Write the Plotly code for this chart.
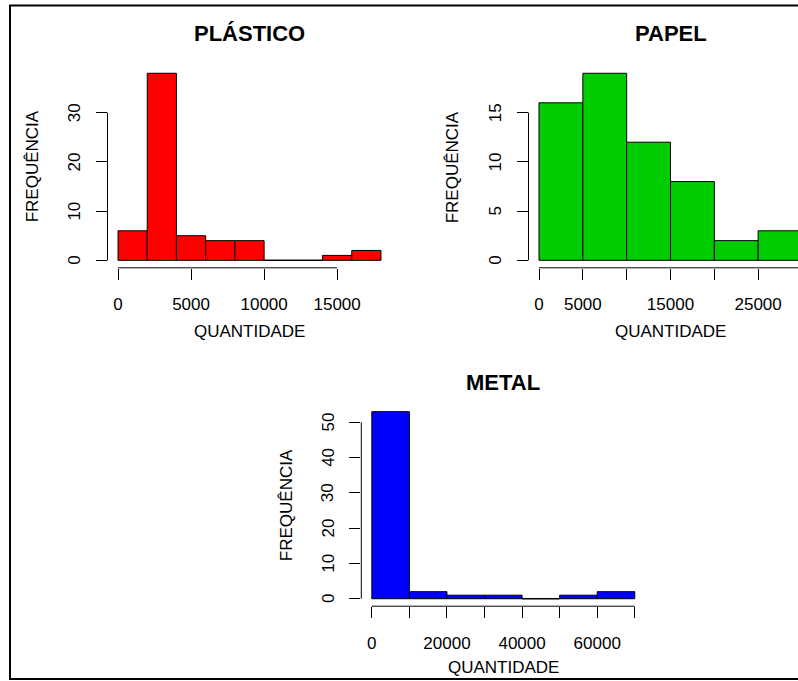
import plotly.graph_objects as go

# ---------------- data ----------------
plastico_edges = [0, 2000, 4000, 6000, 8000, 10000, 12000, 14000, 16000, 18000]
plastico_counts = [6, 38, 5, 4, 4, 0, 0, 1, 2]
plastico_xticks = [0, 5000, 10000, 15000]
plastico_xlabels = ["0", "5000", "10000", "15000"]
plastico_yticks = [0, 10, 20, 30]

papel_edges = [0, 5000, 10000, 15000, 20000, 25000, 30000]
papel_counts = [16, 19, 12, 8, 2, 3]
papel_xticks = [0, 5000, 10000, 15000, 20000, 25000, 30000]
papel_xlabels = ["0", "5000", "", "15000", "", "25000", ""]
papel_yticks = [0, 5, 10, 15]

metal_edges = [0, 10000, 20000, 30000, 40000, 50000, 60000, 70000]
metal_counts = [53, 2, 1, 1, 0, 1, 2]
metal_xticks = [0, 10000, 20000, 30000, 40000, 50000, 60000, 70000]
metal_xlabels = ["0", "", "20000", "", "40000", "", "60000", ""]
metal_yticks = [0, 10, 20, 30, 40, 50]

titles = ["PLÁSTICO", "PAPEL", "METAL"]
xlabel = "QUANTIDADE"
ylabel = "FREQUÊNCIA"
colors = ["#FF0000", "#00CD00", "#0000FF"]

# ---------------- layout helpers ----------------
FW, FH = 798, 681
FONT = "Liberation Sans, Arial, sans-serif"
PW, PH = 284, 202  # plot region size in px


def px(x):
    return x / FW


def py(y):
    return 1 - y / FH


panels = [
    dict(edges=plastico_edges, counts=plastico_counts, xt=plastico_xticks, xl=plastico_xlabels,
         yt=plastico_yticks, left=107.5, top=65.8, title_y=33, xlab_y=331, ylab_x=32.5),
    dict(edges=papel_edges, counts=papel_counts, xt=papel_xticks, xl=papel_xlabels,
         yt=papel_yticks, left=528.5, top=65.8, title_y=33, xlab_y=331, ylab_x=452.5),
    dict(edges=metal_edges, counts=metal_counts, xt=metal_xticks, xl=metal_xlabels,
         yt=metal_yticks, left=361.3, top=404.2, title_y=382, xlab_y=667.5, ylab_x=286),
]

fig = go.Figure()
shapes = []
annotations = []

for i, p in enumerate(panels):
    n = i + 1
    xa = "x" if n == 1 else f"x{n}"
    ya = "y" if n == 1 else f"y{n}"
    edges, counts = p["edges"], p["counts"]
    mids = [(a + b) / 2 for a, b in zip(edges[:-1], edges[1:])]
    widths = [b - a for a, b in zip(edges[:-1], edges[1:])]
    fig.add_trace(go.Bar(
        x=mids, y=counts, width=widths, xaxis=xa, yaxis=ya,
        marker=dict(color=colors[i], line=dict(color="black", width=1)),
        showlegend=False, hoverinfo="x+y",
    ))
    # zero-height bins drawn as baseline segments (like R's hist)
    for a, b, c in zip(edges[:-1], edges[1:], counts):
        if c == 0:
            shapes.append(dict(type="line", xref=xa, yref=ya, x0=a, x1=b, y0=0, y1=0,
                               line=dict(color="black", width=1)))

    xlo, xhi = edges[0], edges[-1]
    xpad = 0.04 * (xhi - xlo)
    xr = [xlo - xpad, xhi + xpad]
    left = p["left"]
    right = left + PW
    if right > FW:
        frac = (FW - left) / PW
        xr = [xr[0], xr[0] + frac * (xr[1] - xr[0])]
        right = FW
    ymax = max(counts)
    yr = [-0.04 * ymax, ymax * 1.04]
    top = p["top"]
    bottom = top + PH

    axis_common = dict(showgrid=False, zeroline=False, showline=False, ticks="outside",
                       ticklen=11, tickwidth=1, tickcolor="black",
                       tickfont=dict(family=FONT, size=17, color="black"))
    fig.layout[("xaxis" if n == 1 else f"xaxis{n}")] = dict(
        domain=[px(left), px(right)], anchor=ya, range=xr, ticklabelstandoff=10,
        tickmode="array", tickvals=p["xt"], ticktext=p["xl"], **axis_common)
    fig.layout[("yaxis" if n == 1 else f"yaxis{n}")] = dict(
        domain=[py(bottom), py(top)], anchor=xa, range=yr, showticklabels=False,
        tickmode="array", tickvals=p["yt"], **axis_common)

    # rotated y tick labels (R style, parallel to the axis)
    for v in p["yt"]:
        annotations.append(dict(text=str(v), xref="paper", yref=ya, x=px(left), y=v,
                                xanchor="center", yanchor="middle", xshift=-33,
                                textangle=-90, showarrow=False,
                                font=dict(family=FONT, size=17, color="black")))

    # R-style axis lines spanning first..last tick
    shapes.append(dict(type="line", xref=xa, yref="paper", x0=p["xt"][0], x1=p["xt"][-1],
                       y0=py(bottom), y1=py(bottom), line=dict(color="black", width=1)))
    shapes.append(dict(type="line", xref="paper", yref=ya, x0=px(left), x1=px(left),
                       y0=p["yt"][0], y1=p["yt"][-1], line=dict(color="black", width=1)))

    cx = (left + left + PW) / 2
    annotations.append(dict(text=f"<b>{titles[i]}</b>", xref="paper", yref="paper",
                            x=px(cx), y=py(p["title_y"]), xanchor="center", yanchor="middle",
                            showarrow=False, font=dict(family=FONT, size=22, color="black")))
    annotations.append(dict(text=xlabel, xref="paper", yref="paper",
                            x=px(cx), y=py(p["xlab_y"]), xanchor="center", yanchor="middle",
                            showarrow=False, font=dict(family=FONT, size=17, color="black")))
    annotations.append(dict(text=ylabel, xref="paper", yref="paper", textangle=-90,
                            x=px(p["ylab_x"]), y=py((top + bottom) / 2), xanchor="center",
                            yanchor="middle", showarrow=False,
                            font=dict(family=FONT, size=17, color="black")))

# outer frame (right side cropped in original)
shapes.append(dict(type="rect", xref="paper", yref="paper", x0=px(10), x1=px(820),
                   y0=py(679), y1=py(5.5), line=dict(color="black", width=2)))

fig.update_layout(
    width=FW, height=FH, margin=dict(l=0, r=0, t=0, b=0),
    paper_bgcolor="white", plot_bgcolor="rgba(0,0,0,0)",
    shapes=shapes, annotations=annotations, barmode="overlay",
    font=dict(family=FONT, color="black"),
)

fig.write_html("out.html", config={"displayModeBar": False},
               post_script="document.body.style.margin='0';document.body.style.overflow='hidden';")
